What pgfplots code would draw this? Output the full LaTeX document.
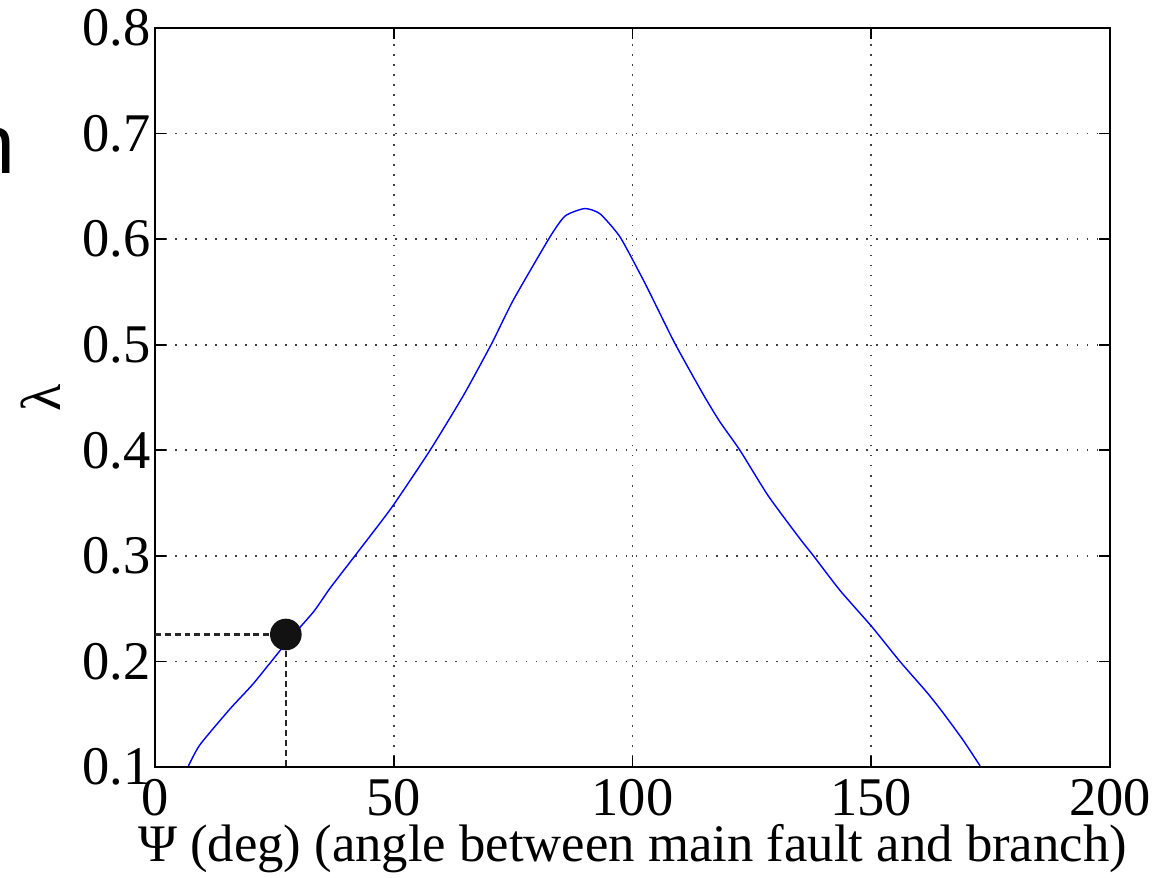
\documentclass[border=0pt]{standalone}
\usepackage{fontspec}
\setmainfont{Liberation Serif}
\newfontfamily\sansf{Liberation Sans}
\usepackage{pgfplots}
\pgfplotsset{compat=1.18}

\begin{document}
\begin{tikzpicture}
\begin{axis}[
    name=ax,
    at={(0,0)}, anchor=south west,
    scale only axis,
    width=9.55cm, height=7.39cm,
    xmin=0, xmax=200,
    ymin=0.1, ymax=0.8,
    xtick={0,50,...,200},
    ytick={0.1,0.2,...,0.8},
    yticklabel style={/pgf/number format/fixed, /pgf/number format/precision=1, /pgf/number format/fixed zerofill, xshift=0.08cm},
    /pgf/number format/assume math mode=true,
    ticklabel style={font=\fontsize{15.5}{18}\selectfont},
    tick pos=both,
    tick align=inside,
    major tick length=0.11cm,
    tick style={black, line width=0.5pt},
    axis line style={black, line width=0.6pt},
    grid=major,
    major grid style={black!75, line width=0.45pt, dash pattern=on 0.45pt off 2.4pt},
    xlabel={Ψ (deg) (angle between main fault and branch)},
    xlabel style={font=\fontsize{15}{18}\selectfont, at={(axis description cs:0.5,0)}, anchor=base, yshift=-0.95cm},
    ylabel={λ},
    ylabel style={font=\fontsize{16}{19}\selectfont, at={(axis description cs:-0.12,0.5)}, anchor=center},
    clip=false,
]

\addplot[black!85, line width=0.6pt, dash pattern=on 1.7pt off 1.1pt] coordinates {
    (0,0.2255) (27.4,0.2255) (27.4,0.1)
};

\addplot[blue, line width=0.4pt, smooth, tension=0.35] coordinates {
    (7.0,0.101) (9.4,0.121) (15.7,0.155) (20.6,0.179) (27.4,0.217)
    (33.2,0.247) (36.6,0.269) (42.2,0.302) (49.6,0.346) (57.6,0.400)
    (64.6,0.452) (70.5,0.501) (75.0,0.542) (82.7,0.602) (85.9,0.622)
    (90.0,0.629) (93.2,0.624) (97.4,0.602) (102.3,0.561) (104.4,0.542)
    (108.9,0.501) (114.8,0.453) (118.3,0.427) (122.5,0.400) (128.4,0.357)
    (135.1,0.316) (137.9,0.300) (143.5,0.267) (150.1,0.233) (156.0,0.200)
    (161.6,0.171) (165.1,0.151) (169.3,0.125) (172.8,0.101)
};

\addplot[only marks, mark=*, mark size=4.3pt, color=black!93] coordinates {
    (27.4,0.2255)
};

\end{axis}
\node[anchor=base east, inner sep=0pt, font=\sansf\fontsize{24}{28}\selectfont] at (-1.39cm,5.93cm) {n};
\pgfresetboundingbox
\path[use as bounding box] (-1.55cm,-1.11cm) rectangle (10.19cm,7.67cm);
\end{tikzpicture}
\end{document}
